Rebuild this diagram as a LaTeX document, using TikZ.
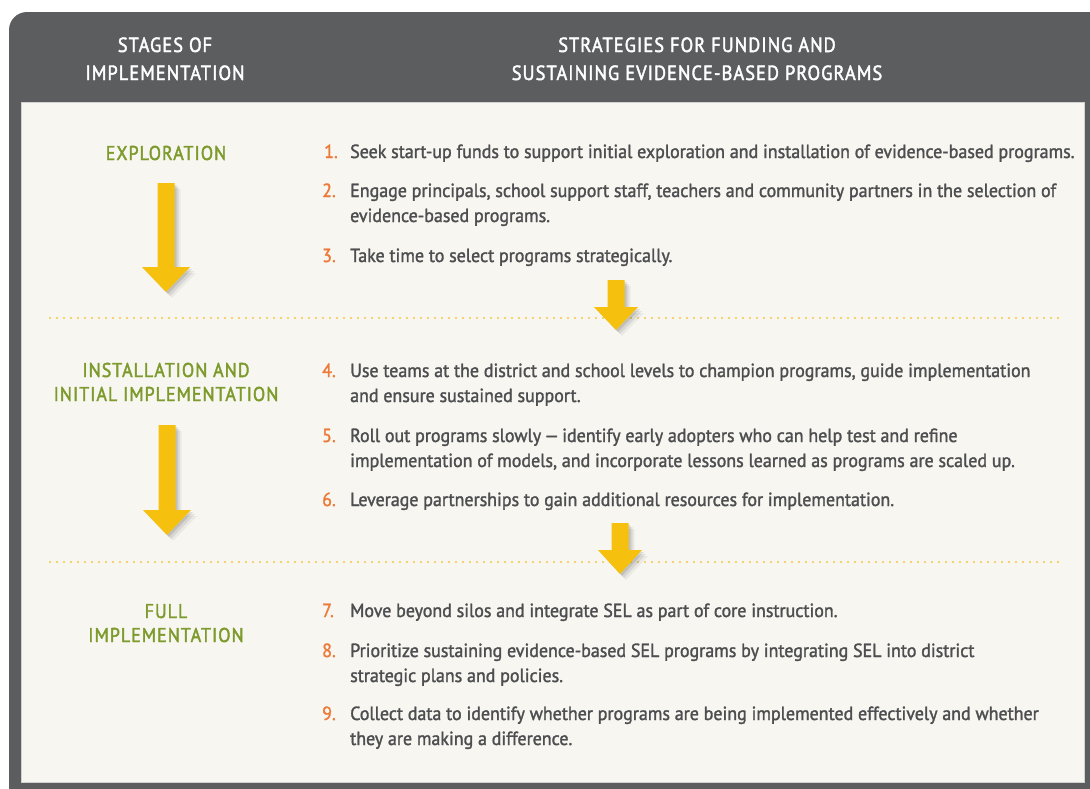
\documentclass[tikz,border=0pt]{standalone}
\usepackage{fontspec}
\setmainfont{PT Sans}[FakeStretch=0.945, FakeBold=1.6]
\newfontfamily\headfont{PT Sans}[FakeStretch=0.9, LetterSpace=5, FakeBold=2]
\definecolor{framegray}{HTML}{5C5D5F}
\definecolor{panel}{HTML}{F8F6F1}
\definecolor{stagegreen}{HTML}{7D9B2C}
\definecolor{numorange}{HTML}{EC7B3A}
\definecolor{arrowyellow}{HTML}{F5C10E}
\definecolor{dotyellow}{HTML}{F5C842}
\definecolor{bodytext}{HTML}{4D4E50}
\tikzset{
  headtxt/.style={anchor=base, text=white, font=\headfont\fontsize{20.5}{22}\selectfont, inner sep=0pt},
  stagetxt/.style={anchor=base, text=stagegreen, font=\headfont\fontsize{20}{22}\selectfont, inner sep=0pt},
  numtxt/.style={anchor=base west, text=numorange, font=\fontsize{19}{22}\selectfont, inner sep=0pt},
  itemtxt/.style={anchor=base west, text=bodytext, font=\fontsize{19}{22}\selectfont, inner sep=0pt},
  sep/.style={dotyellow, line width=2.2pt, line cap=round, dash pattern=on 0pt off 7pt},
}
\newcommand{\blockarrow}[5]{% cx, top, headbase, tip, head halfwidth
  \foreach \o/\op in {2/0.10,4/0.08,6/0.05}{
    \fill[black, opacity=\op] (#1-8.5+\o,#2+\o) -- (#1+8.5+\o,#2+\o) -- (#1+8.5+\o,#3+\o) -- (#1+#5+\o,#3+\o) -- (#1+\o,#4+\o) -- (#1-#5+\o,#3+\o) -- (#1-8.5+\o,#3+\o) -- cycle;
  }
  \fill[arrowyellow] (#1-8.5,#2) -- (#1+8.5,#2) -- (#1+8.5,#3) -- (#1+#5,#3) -- (#1,#4) -- (#1-#5,#3) -- (#1-8.5,#3) -- cycle;
}
\begin{document}
\begin{tikzpicture}[x=1pt,y=-1pt]
\useasboundingbox (0,0) rectangle (1090,788);
\fill[white] (0,0) rectangle (1090,788);
\fill[framegray, rounded corners=18pt] (9,12) rectangle (1120,815);
\fill[panel, draw=black!18, line width=0.8pt] (21,102) rectangle (1084,782);

% header
\node[headtxt] (h1a) at (165,52) {STAGES OF};
\node[headtxt] (h1b) at (165,80) {IMPLEMENTATION};
\node[headtxt] (h2a) at (697,52) {STRATEGIES FOR FUNDING AND};
\node[headtxt] (h2b) at (697,80) {SUSTAINING EVIDENCE-BASED PROGRAMS};

% stages
\node[stagetxt] (st1) at (166,160) {EXPLORATION};
\node[stagetxt] (st2a) at (166,377) {INSTALLATION AND};
\node[stagetxt] (st2b) at (166,401) {INITIAL IMPLEMENTATION};
\node[stagetxt] (st3a) at (166,618) {FULL};
\node[stagetxt] (st3b) at (166,642) {IMPLEMENTATION};

% separators
\coordinate (d1a) at (50,318); \coordinate (d1b) at (1060,318);
\coordinate (d2a) at (50,562); \coordinate (d2b) at (1060,562);
\draw[sep] (d1a) -- (d1b);
\draw[sep] (d2a) -- (d2b);

% arrows
\blockarrow{166}{183}{267}{292}{24}
\blockarrow{167}{425}{510}{535}{24}
\blockarrow{616}{280}{307}{330}{22}
\blockarrow{620}{523}{550}{574}{22}

% items
\node[numtxt] (n1) at (324,158) {1.};
\node[itemtxt] (t1) at (350,158) {Seek start-up funds to support initial exploration and installation of evidence-based programs.};
\node[numtxt] (n2) at (322,197) {2.};
\node[itemtxt] (t2a) at (350,197) {Engage principals, school support staff, teachers and community partners in the selection of};
\node[itemtxt] (t2b) at (350,222) {evidence-based programs.};
\node[numtxt] (n3) at (322,262) {3.};
\node[itemtxt] (t3) at (350,262) {Take time to select programs strategically.};

\node[numtxt] (n4) at (322,377) {4.};
\node[itemtxt] (t4a) at (350,377) {Use teams at the district and school levels to champion programs, guide implementation};
\node[itemtxt] (t4b) at (350,402) {and ensure sustained support.};
\node[numtxt] (n5) at (322,442) {5.};
\node[itemtxt] (t5a) at (350,442) {Roll out programs slowly\,---\,identify early adopters who can help test and refine};
\node[itemtxt] (t5b) at (350,467) {implementation of models, and incorporate lessons learned as programs are scaled up.};
\node[numtxt] (n6) at (322,506) {6.};
\node[itemtxt] (t6) at (350,506) {Leverage partnerships to gain additional resources for implementation.};

\node[numtxt] (n7) at (322,617) {7.};
\node[itemtxt] (t7) at (350,617) {Move beyond silos and integrate SEL as part of core instruction.};
\node[numtxt] (n8) at (322,657) {8.};
\node[itemtxt] (t8a) at (350,657) {Prioritize sustaining evidence-based SEL programs by integrating SEL into district};
\node[itemtxt] (t8b) at (350,682) {strategic plans and policies.};
\node[numtxt] (n9) at (322,720) {9.};
\node[itemtxt] (t9a) at (350,720) {Collect data to identify whether programs are being implemented effectively and whether};
\node[itemtxt] (t9b) at (350,745) {they are making a difference.};
\end{tikzpicture}
\end{document}
